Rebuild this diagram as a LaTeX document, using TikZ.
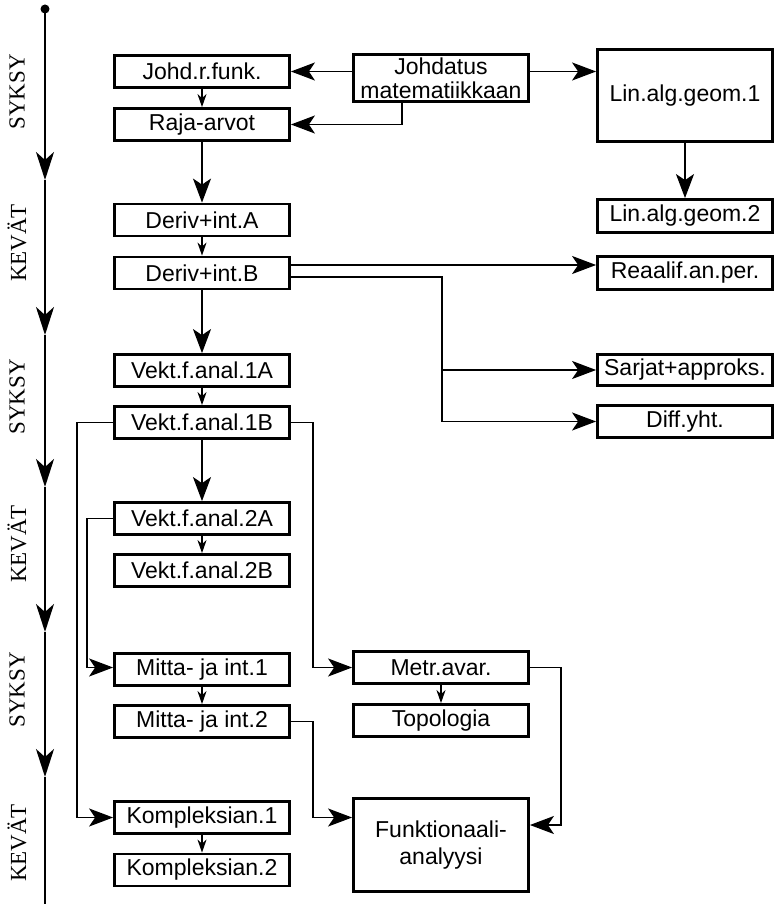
\documentclass[tikz,border=0pt]{standalone}
\usepackage{fontspec}
\setmainfont{Liberation Sans}
\newfontfamily\serifone{Liberation Serif}
\usetikzlibrary{arrows.meta}
\tikzset{
  box/.style={draw, line width=2.8pt, inner sep=0pt, minimum width=175pt, minimum height=32pt, font=\fontsize{23}{24}\selectfont, align=center},
  arr/.style={line width=1.5pt, -{Stealth[length=24pt,width=18pt,inset=6pt]}},
  sarr/.style={line width=1.5pt, -{Stealth[length=13pt,width=9pt,inset=4pt]}},
  tl/.style={line width=2.2pt, -{Stealth[length=28pt,width=18pt,inset=8pt]}},
  season/.style={font=\serifone\fontsize{23}{24}\selectfont, rotate=90, inner sep=0pt}
}
\begin{document}
\begin{tikzpicture}[x=1pt,y=-1pt]
\useasboundingbox (0,0) rectangle (775,904);
% timeline
\coordinate (t0) at (45,9);
\coordinate (t1) at (45,180);
\coordinate (t2) at (45,335);
\coordinate (t3) at (45,487);
\coordinate (t4) at (45,632);
\coordinate (t5) at (45,777);
\coordinate (t6) at (45,904);
\draw[tl] (t0) -- (t1);
\draw[tl] (t1) -- (t2);
\draw[tl] (t2) -- (t3);
\draw[tl] (t3) -- (t4);
\draw[tl] (t4) -- (t5);
\draw[line width=2.2pt] (t5) -- (t6);
\fill (t0) circle (4.5pt);
\node[season] (s1) at (17,92) {SYKSY};
\node[season] (k1l) at (17,243) {KEVÄT};
\node[season] (s2) at (17,397) {SYKSY};
\node[season] (k2l) at (17,544) {KEVÄT};
\node[season] (s3) at (17,690) {SYKSY};
\node[season] (k3l) at (17,843) {KEVÄT};
% left column
\node[box] (johd) at (202,71.5) {Johd.r.funk.};
\node[box] (raja) at (202,124.5) {Raja-arvot};
\node[box] (derA) at (202,220) {Deriv+int.A};
\node[box] (derB) at (202,273) {Deriv+int.B};
\node[box] (v1A) at (202,370.5) {Vekt.f.anal.1A};
\node[box] (v1B) at (202,422.5) {Vekt.f.anal.1B};
\node[box] (v2A) at (202,518.5) {Vekt.f.anal.2A};
\node[box] (v2B) at (202,570.5) {Vekt.f.anal.2B};
\node[box] (m1) at (202,669.5) {Mitta- ja int.1};
\node[box] (m2) at (202,721.5) {Mitta- ja int.2};
\node[box] (k1) at (202,817.5) {Kompleksian.1};
\node[box] (k2) at (202,870) {Kompleksian.2};
% middle
\node[box, minimum height=47pt] (joh) at (441,78) {Johdatus\\matematiikkaan};
\node[box] (metr) at (441,667.5) {Metr.avar.};
\node[box] (topo) at (441,720.5) {Topologia};
\node[box, minimum height=93pt, font=\fontsize{23}{27}\selectfont] (funk) at (441,845) {Funktionaali-\\analyysi};
% right
\node[box, minimum height=92pt] (lin1) at (685,95.5) {Lin.alg.geom.1};
\node[box, minimum height=33pt] (lin2) at (685,216) {Lin.alg.geom.2};
\node[box, minimum height=33pt] (reaal) at (685,273) {Reaalif.an.per.};
\node[box, minimum height=31pt] (sarj) at (685,370) {Sarjat+approks.};
\node[box] (diff) at (685,421.5) {Diff.yht.};
% helper coordinates
\coordinate (bD) at (442,0);
\coordinate (lx) at (77,0);
\coordinate (lx2) at (87,0);
\coordinate (rx) at (313,0);
\coordinate (rx2) at (561,0);
% connectors
\draw[arr] (joh.west |- johd.east) -- (johd.east);
\draw[arr] ([xshift=-39pt]joh.south) |- (raja.east);
\draw[arr] (joh.east |- johd.east) -- (lin1.west |- johd.east);
\draw[arr] (lin1.south) -- (lin2.north);
\draw[sarr] (johd.south) -- (raja.north);
\draw[arr] (raja.south) -- (derA.north);
\draw[sarr] (derA.south) -- (derB.north);
\draw[arr] ([yshift=8pt]derB.east) -- ([yshift=8pt]derB.east -| reaal.west);
\draw[arr] ([yshift=-4pt]derB.east) -| (bD |- diff.west) -- (diff.west);
\draw[arr] (bD |- sarj.west) -- (sarj.west);
\draw[arr] (derB.south) -- (v1A.north);
\draw[sarr] (v1A.south) -- (v1B.north);
\draw[arr] (v1B.south) -- (v2A.north);
\draw[arr] (v1B.west) -| (lx |- k1.west) -- (k1.west);
\draw[arr] (v1B.east) -| (rx |- metr.west) -- (metr.west);
\draw[arr] (v2A.west) -| (lx2 |- metr.west) -- (m1.west |- metr.west);
\draw[sarr] (v2A.south) -- (v2B.north);
\draw[sarr] (m1.south) -- (m2.north);
\draw[arr] (m2.east) -| (rx |- k1.east) -- (funk.west |- k1.east);
\draw[sarr] (k1.south) -- (k2.north);
\draw[sarr] (metr.south) -- (topo.north);
\draw[arr] (metr.east) -| (rx2 |- 0,825) -- (funk.east |- 0,825);
\end{tikzpicture}
\end{document}
